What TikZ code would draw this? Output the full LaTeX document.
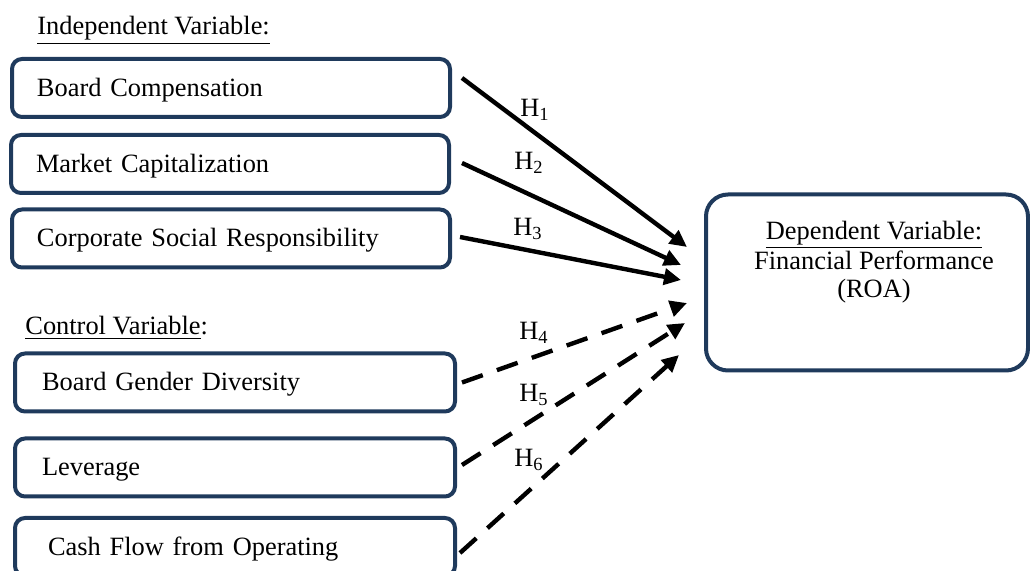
\documentclass[tikz,border=0pt]{standalone}
\usepackage{fontspec}
\setmainfont{Liberation Serif}
\usetikzlibrary{arrows.meta}
\definecolor{boxblue}{HTML}{1F3A5C}

\begin{document}
\begin{tikzpicture}[x=0.5pt,y=-0.5pt,
  font=\fontsize{13.2}{13.8}\selectfont,
  varbox/.style={draw=boxblue,line width=2pt,rounded corners=5pt,minimum height=29pt,
    text height=8.5pt,text depth=0pt,align=left,inner xsep=12.5pt,text width=194pt},
  ctrlbox/.style={varbox,inner xsep=13.5pt,text width=193pt},
  depbox/.style={draw=boxblue,line width=2pt,rounded corners=11pt,minimum width=161pt,minimum height=88pt},
  hypo/.style={line width=2.2pt,-{Triangle[length=8.5pt,width=8pt]}},
  ctrlhypo/.style={hypo,dash pattern=on 11pt off 7.5pt},
  hlabel/.style={anchor=base west,inner sep=0pt}]
\useasboundingbox (0,0) rectangle (1030,571);

% independent variables
\node[hlabel] (indep) at (37,35) {\underline{Independent Variable:}};
\node[varbox] (bc) at (231,88) {Board Compensation};
\node[varbox] (mc) at (230,164) {Market Capitalization};
\node[varbox] (csr) at (231,238.5) {Corporate Social Responsibility};

% control variables
\node[hlabel] (ctrl) at (25,335) {\underline{Control Variable}:};
\node[ctrlbox] (bgd) at (235,382.5) {Board Gender Diversity};
\node[ctrlbox] (lev) at (235,467.5) {Leverage};
\node[ctrlbox,inner xsep=16.5pt,text width=187pt] (cfo) at (235,547) {Cash Flow from Operating};

% dependent variable
\node[depbox] (dv) at (867,282.5) {};
\node[align=center] (dvtext) at (874,262) {\underline{Dependent Variable:}\\Financial Performance\\(ROA)};

\coordinate (t1) at (687,247);
\coordinate (t2) at (681,265);
\coordinate (t3) at (681,280);
\coordinate (t4) at (687,303);
\coordinate (t5) at (685,323);
\coordinate (t6) at (679,355);

\draw[hypo] ([shift={(10,-10)}]bc.east) -- (t1);
\draw[hypo] ([shift={(11,-1)}]mc.east) -- (t2);
\draw[hypo] ([shift={(8,-1.5)}]csr.east) -- (t3);
\draw[ctrlhypo] ([shift={(5,0)}]bgd.east) -- (t4);
\draw[ctrlhypo] ([shift={(5,-2.5)}]lev.east) -- (t5);
\draw[ctrlhypo] ([shift={(3,6)}]cfo.east) -- (t6);

\node[hlabel] (h1) at (520,117) {H\textsubscript{1}};
\node[hlabel] (h2) at (514,170) {H\textsubscript{2}};
\node[hlabel] (h3) at (513,236) {H\textsubscript{3}};
\node[hlabel] (h4) at (519,340) {H\textsubscript{4}};
\node[hlabel] (h5) at (519,402) {H\textsubscript{5}};
\node[hlabel] (h6) at (514,467) {H\textsubscript{6}};

\end{tikzpicture}
\end{document}
